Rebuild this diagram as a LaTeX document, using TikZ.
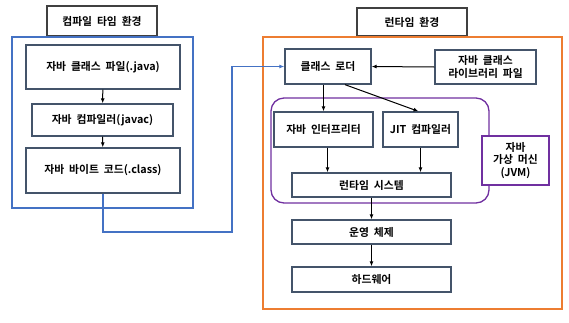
\documentclass[tikz,border=0pt]{standalone}
\usepackage{fontspec}
\setmainfont{Noto Sans CJK KR}[BoldFont={Noto Sans CJK KR Bold}, WordSpace=2]
\usepackage{tikz}
\usetikzlibrary{positioning,calc,arrows.meta}
\definecolor{boxgray}{HTML}{44546A}
\definecolor{titlegray}{HTML}{404040}
\definecolor{envblue}{HTML}{4472C4}
\definecolor{envorange}{HTML}{ED7D31}
\definecolor{jvmpurple}{HTML}{7030A0}

\begin{document}
\begin{tikzpicture}[x=1pt, y=-1pt, font=\fontsize{10.8}{12.5}\selectfont\bfseries,
    box/.style={draw=boxgray, line width=1.3pt, fill=white, align=center, inner sep=0pt},
    titlebox/.style={draw=titlegray, line width=1.3pt, fill=white, inner sep=0pt},
    frame/.style={line width=1.3pt, inner sep=0pt},
    flow/.style={-{Latex[length=5pt,width=4pt]}, line width=1pt}]
    \useasboundingbox (0,0) rectangle (569,322);

    % compile time
    \node [titlebox, minimum width=110, minimum height=30] (ctitle) at (102,21) {컴파일 타임 환경};
    \node [frame, draw=envblue, minimum width=181, minimum height=171] (cframe) at (102.5,122.5) {};
    \node [box, minimum width=154, minimum height=44] (java) at (103,67) {자바 클래스 파일(.java)};
    \node [box, minimum width=141, minimum height=32] (javac) at (102.5,120) {자바 컴파일러(javac)};
    \node [box, minimum width=154, minimum height=45] (bytecode) at (103,170.5) {자바 바이트 코드(.class)};

    % run time
    \node [titlebox, minimum width=110, minimum height=28] (rtitle) at (412,22) {런타임 환경};
    \node [frame, draw=envorange, minimum width=299, minimum height=272] (rframe) at (412.5,173) {};
    \node [box, minimum width=86, minimum height=35] (loader) at (328,66.5) {클래스 로더};
    \node [box, minimum width=101, minimum height=34] (lib) at (485.5,67) {자바 클래스\\라이브러리 파일};

    % jvm
    \node [frame, draw=jvmpurple, rounded corners=13, minimum width=218, minimum height=105] (jframe) at (380,150.5) {};
    \node [box, minimum width=99, minimum height=35] (interp) at (323.5,129.5) {자바 인터프리터};
    \node [box, minimum width=75, minimum height=35] (jit) at (420.5,129.5) {JIT 컴파일러};
    \node [box, draw=jvmpurple, minimum width=67, minimum height=49] (jvm) at (515.5,160.5) {자바\\가상 머신\\(JVM)};
    \node [box, minimum width=159, minimum height=24] (rts) at (371.5,185) {런타임 시스템};
    \node [box, minimum width=159, minimum height=24] (os) at (371.5,232) {운영 체제};
    \node [box, minimum width=159, minimum height=25] (hw) at (371.5,279.5) {하드웨어};

    \coordinate (bend) at (232,232);

    \draw [flow] (java) -- (javac);
    \draw [flow] (javac) -- (bytecode);
    \draw [flow, color=envblue, line width=1.2pt] (bytecode.south) |- (bend) |- (loader.west);

    \draw [flow] (lib.west) -- (loader.east);
    \draw [flow] (interp.north |- loader.south) -- (interp.north);
    \draw [flow] ([xshift=17]loader.south) -- ([xshift=-2]jit.north);
    \draw [flow] ([xshift=4]interp.south) -- ([xshift=4]interp.south |- rts.north);
    \draw [flow] (jit.south) -- (jit.south |- rts.north);
    \draw [flow] (rts) -- (os);
    \draw [flow] (os) -- (hw);
\end{tikzpicture}
\end{document}
